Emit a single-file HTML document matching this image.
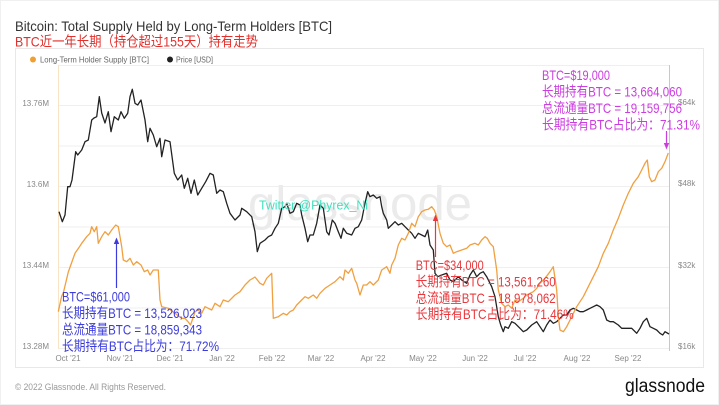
<!DOCTYPE html>
<html>
<head>
<meta charset="utf-8">
<style>
html,body{margin:0;padding:0;background:#fff;}
svg{display:block;}
text{font-family:"Liberation Sans","Noto Sans CJK SC",sans-serif;}
</style>
</head>
<body>
<svg width="719" height="405" viewBox="0 0 719 405" xmlns="http://www.w3.org/2000/svg">
<rect x="0" y="0" width="719" height="405" fill="#ffffff"/>
<rect x="0.5" y="0.5" width="718" height="404" fill="none" stroke="#f0f0f0"/>

<!-- Title -->
<text x="15" y="31" font-size="14" fill="#333" textLength="317" lengthAdjust="spacingAndGlyphs">Bitcoin: Total Supply Held by Long-Term Holders [BTC]</text>
<text x="15" y="46.5" font-size="14" fill="#e0302c" textLength="243" lengthAdjust="spacingAndGlyphs">BTC近一年长期（持仓超过155天）持有走势</text>

<!-- Card -->
<rect x="15.5" y="48.5" width="688" height="319" fill="#fff" stroke="#e8e8e8"/>

<!-- Legend -->
<circle cx="33" cy="59.5" r="3" fill="#f0a030"/>
<text x="40" y="62.5" font-size="8" fill="#666" textLength="109" lengthAdjust="spacingAndGlyphs">Long-Term Holder Supply [BTC]</text>
<circle cx="170" cy="59.5" r="3" fill="#222"/>
<text x="176" y="62.5" font-size="8" fill="#666" textLength="37" lengthAdjust="spacingAndGlyphs">Price [USD]</text>

<!-- Gridlines -->
<g stroke="#efefef" stroke-width="1">
<line x1="58" y1="65.5" x2="669" y2="65.5"/>
<line x1="58" y1="105.5" x2="669" y2="105.5"/>
<line x1="58" y1="146" x2="669" y2="146"/>
<line x1="58" y1="186.5" x2="669" y2="186.5"/>
<line x1="58" y1="227" x2="669" y2="227"/>
<line x1="58" y1="267.5" x2="669" y2="267.5"/>
<line x1="58" y1="308" x2="669" y2="308"/>
<line x1="58" y1="348.5" x2="669" y2="348.5"/>
</g>
<line x1="58.5" y1="65" x2="58.5" y2="349" stroke="#f8e4c4" stroke-width="1"/>
<line x1="669.5" y1="65" x2="669.5" y2="351" stroke="#c8c8c8" stroke-width="1"/>

<!-- Watermark -->
<text x="248" y="220" font-size="48" fill="#ebebeb" textLength="224" lengthAdjust="spacingAndGlyphs">glassnode</text>

<!-- Left axis labels -->
<g font-size="8" fill="#888" text-anchor="end">
<text x="49" y="106">13.76M</text>
<text x="49" y="187">13.6M</text>
<text x="49" y="268">13.44M</text>
<text x="49" y="349">13.28M</text>
</g>
<!-- Right axis labels -->
<g font-size="8" fill="#888">
<text x="678" y="105">$64k</text>
<text x="678" y="186">$48k</text>
<text x="678" y="268">$32k</text>
<text x="678" y="349">$16k</text>
</g>
<!-- X labels -->
<g font-size="8" fill="#888" text-anchor="middle">
<text x="68" y="361">Oct '21</text>
<text x="120" y="361">Nov '21</text>
<text x="170" y="361">Dec '21</text>
<text x="222" y="361">Jan '22</text>
<text x="272" y="361">Feb '22</text>
<text x="321" y="361">Mar '22</text>
<text x="373" y="361">Apr '22</text>
<text x="423" y="361">May '22</text>
<text x="475" y="361">Jun '22</text>
<text x="525" y="361">Jul '22</text>
<text x="577" y="361">Aug '22</text>
<text x="628" y="361">Sep '22</text>
</g>

<!-- Price series -->
<polyline fill="none" stroke="#222" stroke-width="1.3" stroke-linejoin="round" points="
59,211.7 62.3,221.7 65,215 67.7,186.7 70,186.7 72,180 75.7,151.7 77.7,155 81.7,150 85,141.7 88.3,140 91.7,120 94,118 96.7,116.7 99.3,96.7 101.7,113 105,123 108.3,111.7 111,131.7 114.3,116.7 118.3,120 121,111.7 124.3,118.3 127.7,113.3 130,96.7 132.3,89.3 135,103.3 137.7,105 141,100 145,120 147.7,141.7 150,128.3 153.3,135 156.7,146.7 160,138.3 161.7,156.7 165,140 170,141.7 174.3,173.3 177.7,180 181.7,175 184.3,188.3 187.7,178.3 191,193.3 194.3,180 197.7,195 201.7,188.3 205.7,181.7 210,173.3 213.3,175 216.7,193.3 220,190 223.3,191.7 226.7,203.3 230,213.3 235,220 240,215 241.7,208.3 246.7,211.7 251.7,216.7 255,231.7 257.3,251.7 260,243.3 265,240 268.3,236.7 271.7,235 275,228.3 278.3,223.3 281.7,208.3 285,206.7 286.7,203.3 290,213.3 293.3,211.7 296.7,203.3 300,205 301.7,215 305,228.3 307.7,241.7 310,235 313.3,235 316.7,223.3 320,205 323.3,208.3 326.7,231.7 329,235 332.3,220 335,223.3 338.3,231.7 341,238.3 343.3,228.3 346.7,233.3 351.7,235 355,228.3 358.3,226.7 361.7,220 365,203.3 367.7,191.7 370,196.7 373.3,195 376.7,198.3 380,196.7 381.7,206.7 383.3,213.3 386.7,220 388.3,228.3 391.7,225 395,221.7 398.3,225 401.7,223.3 405,226.7 408.3,230 411.7,233.3 415,238.3 418.3,233.3 421.7,235 425,236.7 427.7,230 430,245 433.3,250 435,273.3 437.7,276.7 441.7,275 446.7,273.3 450,280 453.3,281.7 458.3,276.7 461.7,280 466.7,283.3 470,275 473.3,270 476.7,276.7 480,273.3 483.3,271.7 486.7,276.7 491.7,286.7 495,296.7 498.3,316.7 500.7,325 503.3,331.7 505,326.7 508.3,328.3 511.7,321.7 515,323.3 520,328.3 523.3,331.7 526.7,330 531.7,325 536.7,321.7 540,326.7 543.3,331.7 546.7,325 550,320 553.3,323.3 556.7,321.7 560,318.3 563.3,315 566.7,315 570,310 573.3,308.3 576.7,310 580,311.7 583.3,311.7 586.7,310 590,308.3 593.3,306.7 596.7,305 600,306.7 603.3,310 606.7,320 610,321.7 613.3,321.7 618.3,325 621.7,328.3 626.7,328.3 631.7,328.3 636.7,333.3 640,328.3 643.3,321.7 646.7,318.3 650,326.7 653.3,328.3 656.7,330 660,333.3 662.7,335 665,331.7 669,334"/>

<!-- LTH supply series -->
<polyline fill="none" stroke="#f0a040" stroke-width="1.3" stroke-linejoin="round" points="
58.3,311.7 61.7,296 63.3,293 68.3,272 73.3,258 75,253.3 80,246 81.7,243.3 86.7,236.7 90,233.3 91.7,226.7 94.3,231.7 96.7,226.7 98.3,243.3 101.7,236.7 105,231.7 108.3,235 111.7,230 115.7,225 118.3,226.7 121.7,246.7 123.3,260 126.7,261.7 130,258.3 133.3,265 136.7,261.7 141,265 144.3,271.7 147.7,270 150,275 153.3,270 158.3,270 160,300 161.7,306.7 168.3,308.3 175,313.3 181.7,318.3 185,318.3 188.3,322 190.5,325 193,318 195,311.7 198.3,310 201.7,313.3 205,306.7 211.7,310 215,303.3 220,306.7 223.3,300 228.3,301.7 235,295 240,291.7 245,285 250,280 255,277 260,283.3 263.3,285 266.7,278.3 271.7,273.3 273.3,318.3 278.3,316.7 283.3,313.3 286.7,315 290,311.7 293.3,310 296.7,305 301.7,300 305,296.7 308.3,298.3 313.3,295 316.7,298.3 320,293.3 325,288.3 330,285 335,281.7 340,276.7 343.3,280 345,270 348.3,273.3 351.7,268.3 355,280 356.7,283.3 360,295 363.3,285 366.7,285 370,281.7 373.3,285 378.3,280 381.7,270 386.7,266.7 390,273.3 391.7,265 395,258.3 398.3,245 401.7,238.3 405,240 408.3,233.3 411.7,223.3 415,226.7 418.3,216.7 421.7,211.7 425,210 428.3,209.3 431.7,206.7 434.3,210 436.7,216.7 440,233.3 443.3,243.3 446.7,246.7 450,245 453.3,253.3 456.7,251.7 461.7,250 466.7,248.3 470,245 475,243.3 478.3,245 481.7,240 485,236.7 487.3,238.3 490,243.3 493.3,246.7 496.7,270 498.3,290 501.7,303.3 505,306.7 508.3,305 511.7,308.3 515,300 518.3,301.7 523.3,298.3 526.7,295 530,293.3 533.3,291.7 536.7,288.3 540,283.3 545,278.3 550,271.7 553.3,266.7 556.7,290 558.3,316.7 560,330 563.3,331.7 566.7,326.7 571.7,316.7 576.7,306.7 583.3,296.7 588.3,286.7 593.3,276.7 598.3,266.7 603.3,253.3 608.3,243.3 613.3,230 618.3,218.3 623.3,205 628.3,193.3 633.3,183.3 638.3,176.7 641.7,170 645,163.3 647.3,160 649.3,176.7 651.7,181.7 655,180 658.3,171.7 661.7,168.3 665,161.7 668.3,153"/>

<!-- Twitter watermark -->
<text x="259" y="209.5" font-size="12.5" fill="#3fe0c0" textLength="109" lengthAdjust="spacingAndGlyphs">Twitter @Phyrex_Ni</text>

<!-- Blue annotation -->
<line x1="116.5" y1="288" x2="116.5" y2="243" stroke="#3c3cdc" stroke-width="1.2"/>
<polygon points="116.5,237.5 113.8,244 119.2,244" fill="#3c3cdc"/>
<g fill="#3c3cdc" font-size="14">
<text x="62" y="301.5" textLength="68" lengthAdjust="spacingAndGlyphs">BTC=$61,000</text>
<text x="62" y="318" textLength="140" lengthAdjust="spacingAndGlyphs">长期持有BTC = 13,526,023</text>
<text x="62" y="334.5" textLength="140" lengthAdjust="spacingAndGlyphs">总流通量BTC = 18,859,343</text>
<text x="62" y="351" textLength="157" lengthAdjust="spacingAndGlyphs">长期持有BTC占比为：71.72%</text>
</g>

<!-- Red annotation -->
<line x1="435.5" y1="257" x2="435.5" y2="220" stroke="#e8383d" stroke-width="1.2"/>
<polygon points="435.5,214.5 432.8,221 438.2,221" fill="#e8383d"/>
<g fill="#e8383d" font-size="14">
<text x="415.7" y="270" textLength="68" lengthAdjust="spacingAndGlyphs">BTC=$34,000</text>
<text x="415.7" y="286.5" textLength="140" lengthAdjust="spacingAndGlyphs">长期持有BTC = 13,561,260</text>
<text x="415.7" y="303" textLength="140" lengthAdjust="spacingAndGlyphs">总流通量BTC = 18,978,062</text>
<text x="415.7" y="319" textLength="158" lengthAdjust="spacingAndGlyphs">长期持有BTC占比为：71.46%</text>
</g>

<!-- Magenta annotation -->
<line x1="666.5" y1="131" x2="666.5" y2="144" stroke="#cc3de0" stroke-width="1.2"/>
<polygon points="666.5,149.5 663.8,143 669.2,143" fill="#cc3de0"/>
<g fill="#cc3de0" font-size="14">
<text x="542" y="80" textLength="68" lengthAdjust="spacingAndGlyphs">BTC=$19,000</text>
<text x="542" y="96.5" textLength="140" lengthAdjust="spacingAndGlyphs">长期持有BTC = 13,664,060</text>
<text x="542" y="113" textLength="140" lengthAdjust="spacingAndGlyphs">总流通量BTC = 19,159,756</text>
<text x="542" y="129.5" textLength="158" lengthAdjust="spacingAndGlyphs">长期持有BTC占比为：71.31%</text>
</g>

<!-- Footer -->
<text x="15" y="390" font-size="9" fill="#999" textLength="151" lengthAdjust="spacingAndGlyphs">© 2022 Glassnode. All Rights Reserved.</text>
<text x="625" y="392" font-size="19" fill="#111" textLength="80" lengthAdjust="spacingAndGlyphs">glassnode</text>
</svg>
</body>
</html>
